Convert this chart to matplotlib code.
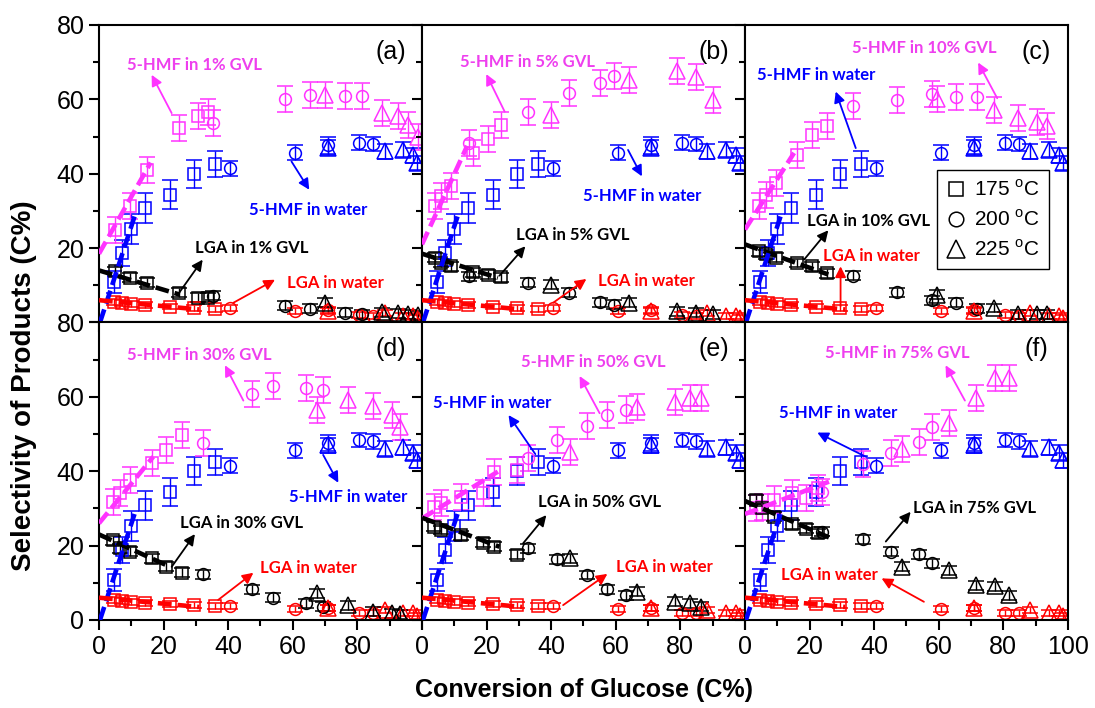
import matplotlib.pyplot as plt
from matplotlib.lines import Line2D

plt.rcParams['font.family'] = 'Liberation Sans'

# GVL content of each panel (a)-(f)
gvl = ['1%', '5%', '10%', '30%', '50%', '75%']
panel_tags = ['(a)', '(b)', '(c)', '(d)', '(e)', '(f)']
temps = ['175', '200', '225']

# reaction in water (same data in every panel)
w_conv = [[4.6, 7.0, 10.0, 14.1, 22.1, 29.4, 36.0],
          [40.5, 60.8, 70.9, 80.5, 84.8],
          [70.9, 88.4, 94.0, 97.2, 98.6]]
w_hmf = [[10.8, 18.8, 25.2, 30.8, 34.4, 40.0, 42.6],
         [41.5, 45.6, 47.6, 48.4, 48.0],
         [47.0, 46.0, 46.5, 45.0, 42.9]]
w_hmf_err = [[3.0, 3.5, 4.0, 4.0, 3.8, 3.8, 3.5],
             [2.0, 2.0, 2.2, 2.0, 2.0],
             [2.0, 2.0, 2.0, 2.0, 2.0]]
w_lga = [[5.5, 5.2, 4.9, 4.6, 4.3, 4.0, 3.7],
         [3.8, 3.0, 3.3, 2.0, 1.8],
         [3.2, 2.6, 1.8, 1.8, 1.2]]
w_lga_err = [[0.8, 0.8, 0.8, 0.8, 0.8, 0.8, 0.8],
             [0.8, 0.8, 0.8, 0.8, 0.8],
             [0.8, 0.8, 0.8, 0.8, 0.8]]

# reaction in GVL/water, one list per panel
conv175 = [[5.0, 9.6, 14.8, 24.9, 30.8, 33.8],
           [3.9, 6.0, 9.1, 15.8, 20.4, 24.5],
           [4.3, 6.4, 9.5, 16.2, 20.8, 25.5],
           [4.4, 6.5, 9.6, 16.3, 20.7, 25.6],
           [3.6, 6.0, 12.2, 18.9, 22.4, 29.5],
           [3.3, 5.4, 9.0, 14.7, 19.0, 22.6]]
hmf175 = [[25.0, 31.2, 40.9, 52.3, 55.6, 56.7],
          [31.2, 33.9, 36.6, 45.6, 49.3, 53.2],
          [31.2, 34.4, 37.5, 45.1, 50.5, 52.9],
          [31.8, 34.1, 37.6, 42.1, 45.7, 49.7],
          [30.5, 31.4, 33.2, 34.1, 39.9, 40.3],
          [30.0, 30.5, 32.4, 34.2, 32.7, 35.4]]
lga175 = [[13.8, 12.0, 10.7, 8.0, 6.6, 6.6],
          [17.4, 16.0, 15.1, 13.5, 12.8, 12.2],
          [19.1, 18.3, 17.4, 16.0, 15.1, 13.2],
          [21.5, 19.3, 18.4, 16.6, 14.3, 12.7],
          [25.1, 24.2, 22.8, 20.8, 19.7, 17.5],
          [32.3, 30.0, 27.8, 25.8, 24.6, 23.3]]
conv200 = [[35.4, 57.6, 65.3, 76.2, 81.3],
           [14.5, 32.8, 45.4, 55.0, 59.4],
           [33.3, 47.2, 57.8, 65.4, 71.9],
           [32.3, 47.3, 53.9, 64.1, 69.5],
           [32.8, 41.7, 51.2, 57.4, 63.3],
           [24.0, 36.5, 45.1, 53.8, 57.8]]
hmf200 = [[53.6, 60.0, 61.2, 60.8, 60.8],
          [48.2, 56.5, 61.7, 64.4, 66.3],
          [58.1, 59.7, 61.4, 60.6, 60.6],
          [47.7, 60.8, 62.9, 62.5, 61.8],
          [43.5, 48.4, 52.2, 55.1, 56.6],
          [34.5, 42.0, 44.8, 47.9, 52.0]]
lga200 = [[7.2, 4.5, 3.7, 2.6, 2.2],
          [12.4, 10.7, 8.0, 5.5, 4.8],
          [12.6, 8.1, 6.0, 5.3, 3.7],
          [12.3, 8.3, 6.0, 4.5, 3.6],
          [19.3, 16.3, 12.1, 8.3, 6.7],
          [23.7, 21.7, 18.4, 17.7, 15.2]]
conv225 = [[70.0, 87.5, 92.7, 95.8, 98.9],
           [39.8, 64.2, 79.0, 84.7, 90.2],
           [59.5, 77.1, 84.6, 90.5, 93.6],
           [67.4, 77.2, 84.9, 90.6, 93.2],
           [45.7, 66.7, 78.2, 82.9, 86.5],
           [48.5, 63.2, 71.6, 77.5, 81.6]]
hmf225 = [[61.2, 56.3, 55.4, 53.2, 50.0],
          [55.8, 65.2, 67.5, 65.9, 59.9],
          [60.0, 57.2, 55.0, 53.8, 52.9],
          [56.5, 59.1, 57.5, 55.1, 52.0],
          [45.2, 57.3, 58.7, 59.6, 59.6],
          [46.1, 52.9, 59.6, 65.0, 65.2]]
lga225 = [[5.3, 2.7, 2.5, 2.2, 2.0],
          [10.2, 5.3, 3.0, 2.6, 2.2],
          [7.5, 3.9, 2.2, 2.2, 2.2],
          [7.2, 4.0, 2.2, 1.8, 1.5],
          [16.6, 7.6, 4.9, 4.5, 3.6],
          [14.3, 13.4, 9.4, 9.1, 6.7]]
HMF_ERR = 3.5
LGA_ERR = 1.2

# dashed trend lines [x0, y0, x1, y1]
hmf_fit = [[0, 18.5, 16.0, 43.0], [0, 21.0, 14.0, 47.5], [0, 25.0, 15.2, 45.6],
           [0, 26.0, 16.8, 43.9], [0, 27.3, 23.5, 39.9], [0, 28.5, 26.0, 37.2]]
lga_fit = [[0, 14.0, 25.0, 7.5], [0, 18.5, 23.5, 12.0], [0, 21.0, 25.8, 12.9],
           [0, 23.0, 22.0, 14.3], [0, 27.5, 24.0, 19.7], [0, 32.0, 26.0, 22.2]]
w_hmf_fit = [0.3, 0.0, 11.0, 28.5]
w_lga_fit = [0, 6.0, 31.0, 3.5]

MAG = '#ff33ff'
MAG_TXT = '#ee3fee'

# annotation layout: (text xy, arrow start, arrow tip) for
# hmf-gvl, hmf-water, lga-gvl, lga-water
notes = [
    [((29.6, 69.3), (22.5, 56.3), (16.3, 66.6)), ((64.8, 30.3), (59.6, 43.3), (65.1, 35.7)),
     ((47.2, 20.0), (24.9, 8.1), (32.1, 16.9)), ((73.3, 10.7), (41.6, 5.3), (54.5, 11.5))],
    [((32.6, 70.1), (25.6, 56.7), (19.9, 66.8)), ((68.2, 33.9), (63.8, 46.4), (68.1, 39.3)),
     ((46.8, 23.6), (24.0, 12.6), (32.0, 20.5)), ((69.5, 11.1), (40.6, 5.3), (50.9, 11.7))],
    [((55.4, 73.7), (78.1, 60.3), (72.2, 69.9)), ((21.9, 66.6), (34.3, 46.9), (28.1, 62.1)),
     ((38.4, 27.2), (18.3, 16.9), (25.8, 24.8)), ((39.3, 17.8), (29.6, 4.4), (29.6, 15.1))],
    [((31.0, 71.2), (44.7, 59.0), (39.0, 68.5)), ((77.2, 33.0), (69.4, 44.4), (74.1, 36.9)),
     ((44.0, 26.0), (22.5, 14.3), (29.7, 23.1)), ((64.8, 13.9), (36.9, 5.4), (47.8, 12.7))],
    [((53.2, 69.4), (55.0, 55.6), (48.8, 65.6)), ((21.8, 58.3), (35.1, 44.6), (26.8, 55.1)),
     ((55.0, 31.8), (31.3, 20.6), (38.5, 28.2)), ((75.2, 14.3), (43.7, 4.0), (57.4, 12.4))],
    [((47.1, 71.7), (68.1, 59.0), (62.1, 68.5)), ((28.9, 55.6), (37.4, 43.9), (22.4, 50.4)),
     ((71.1, 30.0), (43.6, 21.1), (51.3, 29.1)), ((26.3, 12.1), (55.4, 4.9), (42.3, 11.2))],
]

markers = ['s', 'o', '^']
msizes = [8, 8.5, 11]

fig, axes = plt.subplots(2, 3, figsize=(10.95, 7.08), dpi=100)
fig.subplots_adjust(left=0.0904, right=0.9753, top=0.9647, bottom=0.1243,
                    wspace=0, hspace=0)

def pts(ax, x, y, err, color, t):
    ax.errorbar(x, y, yerr=err, fmt=markers[t], ms=msizes[t], mfc='none',
                mec=color, mew=1.1, ecolor=color, elinewidth=1.0,
                capsize=5.5, capthick=1.0, zorder=2)

for i, ax in enumerate(axes.flat):
    gx = [conv175[i], conv200[i], conv225[i]]
    gh = [hmf175[i], hmf200[i], hmf225[i]]
    gl = [lga175[i], lga200[i], lga225[i]]
    for t in range(3):
        pts(ax, w_conv[t], w_hmf[t], w_hmf_err[t], 'blue', t)
        pts(ax, w_conv[t], w_lga[t], w_lga_err[t], 'red', t)
        pts(ax, gx[t], gh[t], HMF_ERR, MAG, t)
        pts(ax, gx[t], gl[t], LGA_ERR, 'black', t)

    for fit, c in [(hmf_fit[i], MAG), (lga_fit[i], 'black'),
                   (w_hmf_fit, 'blue'), (w_lga_fit, 'red')]:
        ax.plot([fit[0], fit[2]], [fit[1], fit[3]], color=c, lw=3.3,
                dashes=[3, 1.3], zorder=4)

    labels = [(f'5-HMF in {gvl[i]} GVL', MAG_TXT, MAG), ('5-HMF in water', 'blue', 'blue'),
              (f'LGA in {gvl[i]} GVL', 'black', 'black'), ('LGA in water', 'red', 'red')]
    for (txt, tc, ac), (txy, a0, a1) in zip(labels, notes[i]):
        ax.text(txy[0], txy[1], txt, color=tc, ha='center', va='center',
                fontsize=12, fontweight='bold', family='Lato', zorder=5)
        ax.annotate('', xy=a1, xytext=a0,
                    arrowprops=dict(arrowstyle='-|>', color=ac, lw=1.3,
                                    mutation_scale=16, shrinkA=0, shrinkB=0),
                    zorder=5)

    ax.text(90.3, 72.8, panel_tags[i], ha='center', va='center', fontsize=18)

    ax.set_xlim(0, 100)
    ax.set_ylim(0, 80)
    ax.set_xticks(range(0, 101, 20))
    ax.set_xticks(range(0, 101, 10), minor=True)
    ax.set_yticks(range(0, 81, 20))
    ax.set_yticks(range(0, 81, 10), minor=True)
    ax.tick_params(which='both', direction='out', width=1.5, labelsize=18,
                   top=False, right=False)
    ax.tick_params(which='major', length=7)
    ax.tick_params(which='minor', length=4)
    for s in ax.spines.values():
        s.set_linewidth(1.5)

    row, col = divmod(i, 3)
    if row == 0:
        ax.set_xticklabels([])
    elif col < 2:
        ax.set_xticklabels(['0', '20', '40', '60', '80', ''])
    if col > 0:
        ax.set_yticklabels([])
    elif row == 0:
        ax.set_yticklabels(['', '20', '40', '60', '80'])

handles = [Line2D([], [], ls='none', marker=m, ms=s, mfc='none', mec='black', mew=1.1)
           for m, s in zip(markers, [10, 10.5, 13])]
axes[0, 2].legend(handles, [f'{t} $^\\mathregular{{o}}$C' for t in temps],
                  loc='upper left', bbox_to_anchor=(0.596, 0.513), borderaxespad=0,
                  fontsize=15, frameon=True, fancybox=False, edgecolor='black',
                  framealpha=1, handlelength=0.9, handletextpad=0.4,
                  labelspacing=0.45, borderpad=0.45)

fig.text(0.533, 0.025, 'Conversion of Glucose (C%)', ha='center', va='center',
         fontsize=18, fontweight='bold')
fig.text(0.022, 0.455, 'Selectivity of Products (C%)', ha='center', va='center',
         rotation=90, fontsize=20, fontweight='bold')

fig.savefig('out.png', dpi=100)
